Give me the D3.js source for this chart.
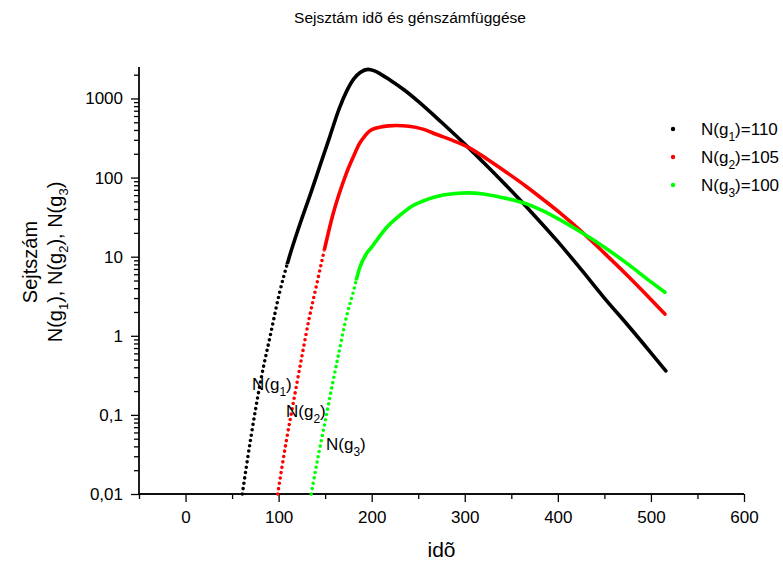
<!DOCTYPE html>
<html>
<head>
<meta charset="utf-8">
<script src="https://cdn.jsdelivr.net/npm/d3@7"></script>
<style>
body { margin: 0; background: #fff; }
text { font-family: "Liberation Sans", Arial, sans-serif; fill: #000; }
</style>
</head>
<body>
<svg id="chart" width="783" height="563"></svg>
<script>
// values: time and cell count for each gene number
var time1 = [61, 70, 81, 91, 101, 111, 122, 135, 145, 155, 165, 173, 181, 188, 196, 203, 210, 220, 235, 250, 275, 300, 325, 350, 375, 400, 425, 450, 475, 500, 516];
var count1 = [0.01, 0.05, 0.28, 1.0, 3.5, 9.5, 24, 66, 148, 330, 740, 1230, 1780, 2140, 2330, 2230, 2020, 1700, 1280, 920, 500, 265, 136, 68, 33, 15.5, 6.9, 3.0, 1.37, 0.61, 0.36];

var time2 = [99, 108, 117, 125, 133, 141, 149, 158, 165, 173, 180, 187, 193, 198, 204, 210, 218, 226, 240, 255, 270, 287, 305, 325, 345, 365, 385, 402, 427, 450, 475, 500, 515];
var count2 = [0.01, 0.045, 0.17, 0.55, 1.7, 4.5, 12, 33, 62, 115, 180, 270, 340, 390, 420, 437, 450, 455, 445, 410, 350, 295, 238, 168, 116, 79, 52, 36, 20, 11.1, 5.75, 2.88, 1.88];

var time3 = [135, 143, 151, 158, 165, 173, 180, 187, 195, 200, 208, 216, 228, 241, 256, 273, 290, 303, 320, 340, 363, 383, 402, 425, 450, 475, 500, 515];
var count3 = [0.01, 0.032, 0.095, 0.25, 0.63, 1.76, 3.5, 7.2, 11.2, 13.2, 17.8, 23.4, 31.6, 42, 51, 59, 63, 64, 62, 56, 48, 38.5, 29.4, 20.4, 13.2, 8.1, 4.8, 3.55];

var geneNumbers = [110, 105, 100];
var xTicks = [0, 100, 200, 300, 400, 500, 600];
var yTicks = [0.01, 0.1, 1, 10, 100, 1000];
var yTickLabels = ["0,01", "0,1", "1", "10", "100", "1000"];

var svg = d3.select("#chart");
var margin = {top: 67, right: 39, bottom: 69, left: 139};
var width = 783 - margin.left - margin.right,
    height = 563 - margin.top - margin.bottom;

var x = d3.scaleLinear().domain([-50, 600]).range([0, width]);
var y = d3.scaleLog().domain([0.01, 2500]).range([height, 0]);

var g = svg.append("g").attr("transform", "translate(" + margin.left + "," + margin.top + ")");

// title
svg.append("text")
    .attr("x", 410).attr("y", 23)
    .attr("text-anchor", "middle")
    .style("font-size", "15.5px")
    .text("Sejsztám idõ és génszámfüggése");

// x axis
var xAxis = g.append("g").attr("transform", "translate(0," + height + ")");
xAxis.call(d3.axisBottom(x).tickValues(xTicks).tickSize(8).tickPadding(9).tickFormat(d3.format("d")));
xAxis.append("g").call(d3.axisBottom(x).tickValues(d3.range(-50, 600, 100)).tickSize(5).tickFormat(""));

// y axis
var minorY = [];
yTicks.forEach(function(d) {
  for (var k = 2; k <= 9; k++) if (d * k <= 2500) minorY.push(d * k);
});
var yAxis = g.append("g");
yAxis.call(d3.axisLeft(y).tickValues(yTicks).tickSize(8).tickPadding(8)
    .tickFormat(function(d, i) { return yTickLabels[i]; }));
yAxis.append("g").call(d3.axisLeft(y).tickValues(minorY).tickSize(5).tickFormat(""));

svg.selectAll(".domain").attr("stroke", "#000").attr("stroke-width", 1.3);
svg.selectAll(".tick line").attr("stroke", "#000").attr("stroke-width", 1.3);
svg.selectAll(".tick text").style("font-size", "17px").style("font-family", '"Liberation Sans", Arial, sans-serif');
// drop the outer end ticks of the domain paths
xAxis.selectAll(".domain").attr("d", "M0,0H" + width);
yAxis.selectAll(".domain").attr("d", "M0," + height + "V0");

// axis titles
svg.append("text")
    .attr("x", margin.left + width / 2).attr("y", 557)
    .attr("text-anchor", "middle")
    .style("font-size", "21px")
    .text("idõ");

svg.append("text")
    .attr("transform", "translate(37,262) rotate(-90)")
    .attr("text-anchor", "middle")
    .style("font-size", "20px")
    .text("Sejtszám");

var yTitle2 = svg.append("text")
    .attr("transform", "translate(62,262) rotate(-90)")
    .attr("text-anchor", "middle")
    .style("font-size", "20px");
[1, 2, 3].forEach(function(k, i) {
  yTitle2.append("tspan").text("N(g");
  yTitle2.append("tspan").attr("dy", 6).style("font-size", "13px").text(k);
  yTitle2.append("tspan").attr("dy", -6).text(i < 2 ? "), " : ")");
});

// curves
var series = [
  {t: time1, n: count1, color: "#000000", dotsBelow: 8},
  {t: time2, n: count2, color: "#ff0000", dotsBelow: 12},
  {t: time3, n: count3, color: "#00ff00", dotsBelow: 5}
];

var line = d3.line()
    .x(function(d) { return x(d[0]); })
    .y(function(d) { return y(d[1]); })
    .curve(d3.curveMonotoneX);

var defs = svg.append("defs");

series.forEach(function(s, i) {
  var pts = s.t.map(function(t, j) { return [t, s.n[j]]; });
  var cut = y(s.dotsBelow);
  // dots only show apart on the steep rising side, left of the maximum
  var peakT = s.t[d3.maxIndex(s.n)];
  var xEnd = x(peakT);

  var low = defs.append("clipPath").attr("id", "low" + i);
  low.append("rect").attr("x", -10).attr("y", cut).attr("width", xEnd + 10).attr("height", height - cut + 10);

  var high = defs.append("clipPath").attr("id", "high" + i);
  high.append("rect").attr("x", -10).attr("y", -10).attr("width", width + 20).attr("height", cut + 10);
  high.append("rect").attr("x", xEnd).attr("y", -10).attr("width", width).attr("height", height + 20);

  // steep part: separate dots
  g.append("path")
      .datum(pts)
      .attr("clip-path", "url(#low" + i + ")")
      .attr("fill", "none")
      .attr("stroke", s.color)
      .attr("stroke-width", 3.6)
      .attr("stroke-linecap", "round")
      .attr("stroke-dasharray", "0,5.4")
      .attr("d", line);

  // flat part: dots overlap into a line
  g.append("path")
      .datum(pts)
      .attr("clip-path", "url(#high" + i + ")")
      .attr("fill", "none")
      .attr("stroke", s.color)
      .attr("stroke-width", 3.6)
      .attr("stroke-linecap", "round")
      .attr("d", line);
});

// labels next to the curves
var curveLabels = [
  {x: 252, y: 390},
  {x: 286, y: 417},
  {x: 326, y: 450}
];
curveLabels.forEach(function(p, i) {
  var t = svg.append("text").attr("x", p.x).attr("y", p.y).style("font-size", "17px");
  t.append("tspan").text("N(g");
  t.append("tspan").attr("dy", 6).style("font-size", "12px").text(i + 1);
  t.append("tspan").attr("dy", -6).text(")");
});

// legend
var legend = svg.append("g");
series.forEach(function(s, i) {
  var ly = 129 + i * 28;
  legend.append("circle").attr("cx", 673).attr("cy", ly).attr("r", 2.2).attr("fill", s.color);
  var t = legend.append("text").attr("x", 701).attr("y", ly + 6).style("font-size", "17px");
  t.append("tspan").text("N(g");
  t.append("tspan").attr("dy", 6).style("font-size", "12px").text(i + 1);
  t.append("tspan").attr("dy", -6).text(")=" + geneNumbers[i]);
});
</script>
</body>
</html>
